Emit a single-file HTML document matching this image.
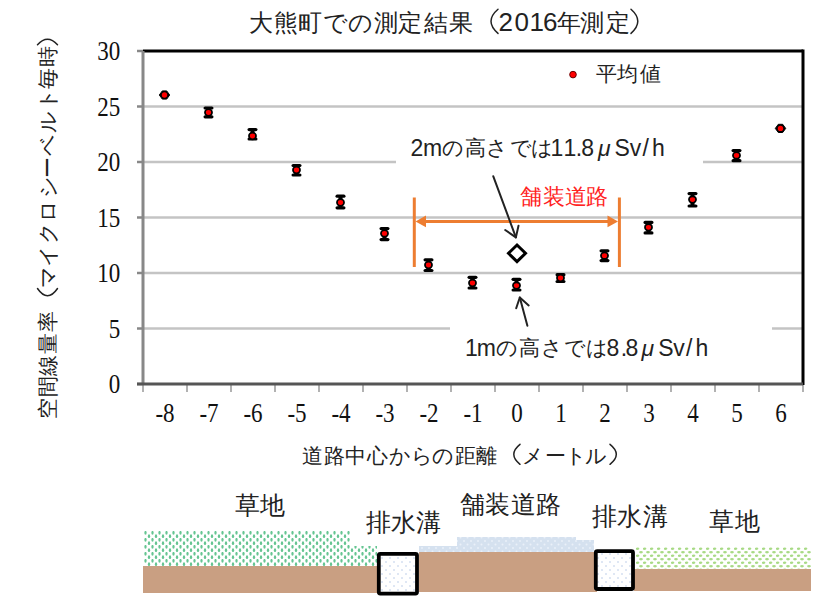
<!DOCTYPE html>
<html><head><meta charset="utf-8">
<style>
html,body{margin:0;padding:0;background:#fff;width:826px;height:602px;overflow:hidden}
svg{display:block}
text{font-family:"Liberation Sans",sans-serif;fill:#222}
.num{font-family:"Liberation Serif",serif;font-size:24px;fill:#111}
.jp{font-size:21px}
</style></head><body>
<svg width="826" height="602" viewBox="0 0 826 602">
<defs>
<pattern id="pg" width="7" height="7" patternUnits="userSpaceOnUse" x="144" y="531">
<ellipse cx="1.5" cy="1.75" rx="1.15" ry="1.9" fill="#66c592"/>
<ellipse cx="5" cy="5.25" rx="1.15" ry="1.9" fill="#66c592"/>
</pattern>
<pattern id="pg2" width="7" height="7" patternUnits="userSpaceOnUse" x="636" y="547">
<ellipse cx="1.5" cy="1.75" rx="1.9" ry="1.15" fill="#a8da86"/>
<ellipse cx="5" cy="5.25" rx="1.9" ry="1.15" fill="#a8da86"/>
</pattern>
<pattern id="pw" width="7" height="7" patternUnits="userSpaceOnUse">
<circle cx="2" cy="2" r="1" fill="#eaf0f8"/>
<circle cx="5.5" cy="5.5" r="1" fill="#eaf0f8"/>
</pattern>
<pattern id="pb" width="8" height="8" patternUnits="userSpaceOnUse">
<circle cx="2" cy="2" r="0.8" fill="#b5c8e6"/>
<circle cx="6" cy="6" r="0.8" fill="#b5c8e6"/>
</pattern>
</defs>
<rect width="826" height="602" fill="#fff"/>
<text x="260.8 285.5 310.1 335.2 360.0 385.5 410.2 436.3 461.3 568.9 592.2 617.7" y="30.5" text-anchor="middle" style="font-size:24px;">大熊町での測定結果年測定</text><text x="505.8 521.7 536.7 550.3" y="31" text-anchor="middle" style="font-size:26px;">2016</text>
<g fill="none" stroke="#222" stroke-width="1.5" stroke-linecap="round">
<path d="M498,9.3 Q484,21.3 498,33.4"/>
<path d="M631,9.3 Q644.6,21.3 631,33.4"/>
<path d="M520,444.3 Q507.6,454.3 520,464.3"/>
<path d="M610,444.3 Q622.6,454.3 610,464.3"/>
<path d="M37.5,288.5 Q47.5,303 57.5,288.5"/>
<path d="M37.5,44.7 Q47.5,33.6 57.5,44.7"/>
</g>
<line x1="143" y1="328.5" x2="450" y2="328.5" stroke="#c4c4c4" stroke-width="2.5"/>
<line x1="772" y1="328.5" x2="803" y2="328.5" stroke="#c4c4c4" stroke-width="2.5"/>
<line x1="143" y1="273.0" x2="803" y2="273.0" stroke="#c4c4c4" stroke-width="2.5"/>
<line x1="143" y1="217.5" x2="803" y2="217.5" stroke="#c4c4c4" stroke-width="2.5"/>
<line x1="143" y1="162.0" x2="396" y2="162.0" stroke="#c4c4c4" stroke-width="2.5"/>
<line x1="703" y1="162.0" x2="803" y2="162.0" stroke="#c4c4c4" stroke-width="2.5"/>
<line x1="143" y1="106.5" x2="803" y2="106.5" stroke="#c4c4c4" stroke-width="2.5"/>
<line x1="137" y1="384.0" x2="143" y2="384.0" stroke="#888" stroke-width="2.5"/>
<g transform="translate(120.3,393.2) scale(0.96,1.1)"><text text-anchor="end" class="num">0</text></g>
<line x1="137" y1="328.5" x2="143" y2="328.5" stroke="#888" stroke-width="2.5"/>
<g transform="translate(120.3,337.7) scale(0.96,1.1)"><text text-anchor="end" class="num">5</text></g>
<line x1="137" y1="273.0" x2="143" y2="273.0" stroke="#888" stroke-width="2.5"/>
<g transform="translate(120.3,282.2) scale(0.96,1.1)"><text text-anchor="end" class="num">10</text></g>
<line x1="137" y1="217.5" x2="143" y2="217.5" stroke="#888" stroke-width="2.5"/>
<g transform="translate(120.3,226.7) scale(0.96,1.1)"><text text-anchor="end" class="num">15</text></g>
<line x1="137" y1="162.0" x2="143" y2="162.0" stroke="#888" stroke-width="2.5"/>
<g transform="translate(120.3,171.2) scale(0.96,1.1)"><text text-anchor="end" class="num">20</text></g>
<line x1="137" y1="106.5" x2="143" y2="106.5" stroke="#888" stroke-width="2.5"/>
<g transform="translate(120.3,115.7) scale(0.96,1.1)"><text text-anchor="end" class="num">25</text></g>
<line x1="137" y1="51.0" x2="143" y2="51.0" stroke="#888" stroke-width="2.5"/>
<g transform="translate(120.3,60.2) scale(0.96,1.1)"><text text-anchor="end" class="num">30</text></g>
<line x1="143" y1="384" x2="143" y2="392" stroke="#999" stroke-width="1.5"/>
<line x1="187" y1="384" x2="187" y2="392" stroke="#999" stroke-width="1.5"/>
<line x1="231" y1="384" x2="231" y2="392" stroke="#999" stroke-width="1.5"/>
<line x1="275" y1="384" x2="275" y2="392" stroke="#999" stroke-width="1.5"/>
<line x1="319" y1="384" x2="319" y2="392" stroke="#999" stroke-width="1.5"/>
<line x1="363" y1="384" x2="363" y2="392" stroke="#999" stroke-width="1.5"/>
<line x1="407" y1="384" x2="407" y2="392" stroke="#999" stroke-width="1.5"/>
<line x1="451" y1="384" x2="451" y2="392" stroke="#999" stroke-width="1.5"/>
<line x1="495" y1="384" x2="495" y2="392" stroke="#999" stroke-width="1.5"/>
<line x1="539" y1="384" x2="539" y2="392" stroke="#999" stroke-width="1.5"/>
<line x1="583" y1="384" x2="583" y2="392" stroke="#999" stroke-width="1.5"/>
<line x1="627" y1="384" x2="627" y2="392" stroke="#999" stroke-width="1.5"/>
<line x1="671" y1="384" x2="671" y2="392" stroke="#999" stroke-width="1.5"/>
<line x1="715" y1="384" x2="715" y2="392" stroke="#999" stroke-width="1.5"/>
<line x1="759" y1="384" x2="759" y2="392" stroke="#999" stroke-width="1.5"/>
<line x1="803" y1="384" x2="803" y2="392" stroke="#999" stroke-width="1.5"/>
<g transform="translate(165.0,422.3) scale(0.96,1.1)"><text text-anchor="middle" class="num">-8</text></g>
<g transform="translate(209.0,422.3) scale(0.96,1.1)"><text text-anchor="middle" class="num">-7</text></g>
<g transform="translate(253.0,422.3) scale(0.96,1.1)"><text text-anchor="middle" class="num">-6</text></g>
<g transform="translate(297.0,422.3) scale(0.96,1.1)"><text text-anchor="middle" class="num">-5</text></g>
<g transform="translate(341.0,422.3) scale(0.96,1.1)"><text text-anchor="middle" class="num">-4</text></g>
<g transform="translate(385.0,422.3) scale(0.96,1.1)"><text text-anchor="middle" class="num">-3</text></g>
<g transform="translate(429.0,422.3) scale(0.96,1.1)"><text text-anchor="middle" class="num">-2</text></g>
<g transform="translate(473.0,422.3) scale(0.96,1.1)"><text text-anchor="middle" class="num">-1</text></g>
<g transform="translate(517.0,422.3) scale(0.96,1.1)"><text text-anchor="middle" class="num">0</text></g>
<g transform="translate(561.0,422.3) scale(0.96,1.1)"><text text-anchor="middle" class="num">1</text></g>
<g transform="translate(605.0,422.3) scale(0.96,1.1)"><text text-anchor="middle" class="num">2</text></g>
<g transform="translate(649.0,422.3) scale(0.96,1.1)"><text text-anchor="middle" class="num">3</text></g>
<g transform="translate(693.0,422.3) scale(0.96,1.1)"><text text-anchor="middle" class="num">4</text></g>
<g transform="translate(737.0,422.3) scale(0.96,1.1)"><text text-anchor="middle" class="num">5</text></g>
<g transform="translate(781.0,422.3) scale(0.96,1.1)"><text text-anchor="middle" class="num">6</text></g>
<line x1="143" y1="51" x2="803" y2="51" stroke="#000" stroke-width="3"/>
<line x1="803" y1="49.5" x2="803" y2="385" stroke="#000" stroke-width="3"/>
<line x1="143" y1="51" x2="143" y2="384" stroke="#888" stroke-width="3"/>
<line x1="137" y1="384" x2="803" y2="384" stroke="#555" stroke-width="3"/>
<polygon points="159.3,95.0 162.3,90.9 166.7,90.9 169.7,95.0 166.7,99.1 162.3,99.1" fill="#000" stroke="#000" stroke-width="1" stroke-linejoin="round"/>
<circle cx="164.5" cy="95.0" r="2.7" fill="#f00"/>
<line x1="208.5" y1="108.0" x2="208.5" y2="116.8" stroke="#000" stroke-width="4"/>
<line x1="205.1" y1="108.0" x2="211.9" y2="108.0" stroke="#000" stroke-width="3.2" stroke-linecap="round"/>
<line x1="205.1" y1="116.8" x2="211.9" y2="116.8" stroke="#000" stroke-width="3.2" stroke-linecap="round"/>
<ellipse cx="208.5" cy="112.5" rx="3.5" ry="3.3" fill="#f00" stroke="#000" stroke-width="1.8"/>
<line x1="252.5" y1="129.6" x2="252.5" y2="139.0" stroke="#000" stroke-width="4"/>
<line x1="249.1" y1="129.6" x2="255.9" y2="129.6" stroke="#000" stroke-width="3.2" stroke-linecap="round"/>
<line x1="249.1" y1="139.0" x2="255.9" y2="139.0" stroke="#000" stroke-width="3.2" stroke-linecap="round"/>
<ellipse cx="252.5" cy="136.0" rx="3.5" ry="3.3" fill="#f00" stroke="#000" stroke-width="1.8"/>
<line x1="296.5" y1="165.5" x2="296.5" y2="175.0" stroke="#000" stroke-width="4"/>
<line x1="293.1" y1="165.5" x2="299.9" y2="165.5" stroke="#000" stroke-width="3.2" stroke-linecap="round"/>
<line x1="293.1" y1="175.0" x2="299.9" y2="175.0" stroke="#000" stroke-width="3.2" stroke-linecap="round"/>
<ellipse cx="296.5" cy="170.0" rx="3.5" ry="3.3" fill="#f00" stroke="#000" stroke-width="1.8"/>
<line x1="340.5" y1="196.2" x2="340.5" y2="207.8" stroke="#000" stroke-width="4"/>
<line x1="337.1" y1="196.2" x2="343.9" y2="196.2" stroke="#000" stroke-width="3.2" stroke-linecap="round"/>
<line x1="337.1" y1="207.8" x2="343.9" y2="207.8" stroke="#000" stroke-width="3.2" stroke-linecap="round"/>
<ellipse cx="340.5" cy="202.5" rx="3.5" ry="3.3" fill="#f00" stroke="#000" stroke-width="1.8"/>
<line x1="384.5" y1="228.6" x2="384.5" y2="239.6" stroke="#000" stroke-width="4"/>
<line x1="381.1" y1="228.6" x2="387.9" y2="228.6" stroke="#000" stroke-width="3.2" stroke-linecap="round"/>
<line x1="381.1" y1="239.6" x2="387.9" y2="239.6" stroke="#000" stroke-width="3.2" stroke-linecap="round"/>
<ellipse cx="384.5" cy="233.4" rx="3.5" ry="3.3" fill="#f00" stroke="#000" stroke-width="1.8"/>
<line x1="428.5" y1="259.8" x2="428.5" y2="270.5" stroke="#000" stroke-width="4"/>
<line x1="425.1" y1="259.8" x2="431.9" y2="259.8" stroke="#000" stroke-width="3.2" stroke-linecap="round"/>
<line x1="425.1" y1="270.5" x2="431.9" y2="270.5" stroke="#000" stroke-width="3.2" stroke-linecap="round"/>
<ellipse cx="428.5" cy="265.0" rx="3.5" ry="3.3" fill="#f00" stroke="#000" stroke-width="1.8"/>
<line x1="472.5" y1="277.3" x2="472.5" y2="288.0" stroke="#000" stroke-width="4"/>
<line x1="469.1" y1="277.3" x2="475.9" y2="277.3" stroke="#000" stroke-width="3.2" stroke-linecap="round"/>
<line x1="469.1" y1="288.0" x2="475.9" y2="288.0" stroke="#000" stroke-width="3.2" stroke-linecap="round"/>
<ellipse cx="472.5" cy="283.0" rx="3.5" ry="3.3" fill="#f00" stroke="#000" stroke-width="1.8"/>
<line x1="516.5" y1="279.3" x2="516.5" y2="290.0" stroke="#000" stroke-width="4"/>
<line x1="513.1" y1="279.3" x2="519.9" y2="279.3" stroke="#000" stroke-width="3.2" stroke-linecap="round"/>
<line x1="513.1" y1="290.0" x2="519.9" y2="290.0" stroke="#000" stroke-width="3.2" stroke-linecap="round"/>
<ellipse cx="516.5" cy="285.6" rx="3.5" ry="3.3" fill="#f00" stroke="#000" stroke-width="1.8"/>
<line x1="560.5" y1="274.7" x2="560.5" y2="281.5" stroke="#000" stroke-width="4"/>
<line x1="557.1" y1="274.7" x2="563.9" y2="274.7" stroke="#000" stroke-width="3.2" stroke-linecap="round"/>
<line x1="557.1" y1="281.5" x2="563.9" y2="281.5" stroke="#000" stroke-width="3.2" stroke-linecap="round"/>
<ellipse cx="560.5" cy="278.0" rx="3.5" ry="3.3" fill="#f00" stroke="#000" stroke-width="1.8"/>
<line x1="604.5" y1="250.8" x2="604.5" y2="260.6" stroke="#000" stroke-width="4"/>
<line x1="601.1" y1="250.8" x2="607.9" y2="250.8" stroke="#000" stroke-width="3.2" stroke-linecap="round"/>
<line x1="601.1" y1="260.6" x2="607.9" y2="260.6" stroke="#000" stroke-width="3.2" stroke-linecap="round"/>
<ellipse cx="604.5" cy="255.7" rx="3.5" ry="3.3" fill="#f00" stroke="#000" stroke-width="1.8"/>
<line x1="648.5" y1="222.4" x2="648.5" y2="232.9" stroke="#000" stroke-width="4"/>
<line x1="645.1" y1="222.4" x2="651.9" y2="222.4" stroke="#000" stroke-width="3.2" stroke-linecap="round"/>
<line x1="645.1" y1="232.9" x2="651.9" y2="232.9" stroke="#000" stroke-width="3.2" stroke-linecap="round"/>
<ellipse cx="648.5" cy="227.3" rx="3.5" ry="3.3" fill="#f00" stroke="#000" stroke-width="1.8"/>
<line x1="692.5" y1="193.6" x2="692.5" y2="206.0" stroke="#000" stroke-width="4"/>
<line x1="689.1" y1="193.6" x2="695.9" y2="193.6" stroke="#000" stroke-width="3.2" stroke-linecap="round"/>
<line x1="689.1" y1="206.0" x2="695.9" y2="206.0" stroke="#000" stroke-width="3.2" stroke-linecap="round"/>
<ellipse cx="692.5" cy="199.6" rx="3.5" ry="3.3" fill="#f00" stroke="#000" stroke-width="1.8"/>
<line x1="736.5" y1="150.6" x2="736.5" y2="160.7" stroke="#000" stroke-width="4"/>
<line x1="733.1" y1="150.6" x2="739.9" y2="150.6" stroke="#000" stroke-width="3.2" stroke-linecap="round"/>
<line x1="733.1" y1="160.7" x2="739.9" y2="160.7" stroke="#000" stroke-width="3.2" stroke-linecap="round"/>
<ellipse cx="736.5" cy="155.4" rx="3.5" ry="3.3" fill="#f00" stroke="#000" stroke-width="1.8"/>
<polygon points="775.3,128.4 778.3,124.30000000000001 782.7,124.30000000000001 785.7,128.4 782.7,132.5 778.3,132.5" fill="#000" stroke="#000" stroke-width="1" stroke-linejoin="round"/>
<circle cx="780.5" cy="128.4" r="2.7" fill="#f00"/>
<!-- legend -->
<circle cx="573" cy="74.6" r="3.3" fill="#f00" stroke="#600" stroke-width="1"/>
<text x="606.0 627.8 650.0" y="81" text-anchor="middle" style="font-size:21px;">平均値</text>
<!-- annotations -->
<text x="453.0 475.3 496.5 520.8 542.0" y="154.8" text-anchor="middle" style="font-size:21px;">の高さでは</text><text x="417.0 432.5 557.0 570.0 579.0 587.7 604.4 622.2 635.4 645.6 658.5" y="156" text-anchor="middle" style="font-size:23px;">2m11.8<tspan style="font-style:italic">μ</tspan>Sv/h</text>
<text x="507.2 529.6 551.6 574.7 596.6" y="354.6" text-anchor="middle" style="font-size:21px;">の高さでは</text><text x="471.5 486.3 613.0 624.0 632.0 647.7 665.8 679.1 689.3 702.0" y="355.5" text-anchor="middle" style="font-size:23px;">1m8.8<tspan style="font-style:italic">μ</tspan>Sv/h</text>
<text x="531.3 553.5 575.5 597.3" y="204" text-anchor="middle" style="font-size:21.5px;fill:#f22">舗装道路</text>
<!-- orange bracket -->
<line x1="414.3" y1="197.5" x2="414.3" y2="267" stroke="#ed7d31" stroke-width="3"/>
<line x1="619.4" y1="197.5" x2="619.4" y2="267" stroke="#ed7d31" stroke-width="3"/>
<line x1="424" y1="221.4" x2="609" y2="221.4" stroke="#ed7d31" stroke-width="3"/>
<polygon points="415.5,221.4 426,215.5 426,227.3" fill="#ed7d31"/>
<polygon points="618,221.4 607.5,215.5 607.5,227.3" fill="#ed7d31"/>
<!-- diamond -->
<polygon points="517,245 525.5,253.3 517,261.6 508.5,253.3" fill="#fff" stroke="#000" stroke-width="3"/>
<!-- arrows -->
<g stroke="#222" stroke-width="2" fill="none" stroke-linecap="round" stroke-linejoin="round">
<line x1="493.3" y1="176.3" x2="515.9" y2="237.4"/>
<polyline points="505.2,230 515.9,237.4 518.5,225.8"/>
<line x1="527.4" y1="325.7" x2="519.8" y2="297.5"/>
<polyline points="516.2,308.3 519.8,297.5 528.7,305.4"/>
</g>
<!-- axis titles -->
<text x="312.0 334.1 355.8 377.3 399.5 422.1 442.7 465.8 486.9 532.7 555.8 575.9 596.0" y="463" text-anchor="middle" style="font-size:21px;">道路中心からの距離メートル</text>
<text transform="rotate(-90)" x="-408.9 -386.5 -365.2 -343.2 -321.0 -276.9 -255.7 -232.5 -211.0 -187.3 -167.0 -145.0 -122.0 -99.0 -78.6 -56.6" y="55" text-anchor="middle" style="font-size:21px;">空間線量率マイクロシーベルト毎時</text>
<!-- ground diagram labels -->
<text x="247.4 272.9" y="513.5" text-anchor="middle" style="font-size:25px;">草地</text>
<text x="378.5 403.3 428.9" y="531" text-anchor="middle" style="font-size:25px;">排水溝</text>
<text x="472.4 497.4 523.2 548.2" y="513" text-anchor="middle" style="font-size:25px;">舗装道路</text>
<text x="604.4 629.7 655.0" y="525" text-anchor="middle" style="font-size:25px;">排水溝</text>
<text x="721.4 747.0" y="529.5" text-anchor="middle" style="font-size:25px;">草地</text>
<!-- ground -->
<path d="M144,531 H350 V546 H377 V567 H144 Z" fill="url(#pg)"/>
<rect x="143" y="566" width="236" height="27" fill="#c99f82"/>
<path d="M419,546 H457 V537 H576 V540 H594 V552 H419 Z" fill="#d5e1ef"/>
<path d="M419,546 H457 V537 H576 V540 H594 V552 H419 Z" fill="url(#pw)"/>
<rect x="419" y="552" width="178" height="40" fill="#c99f82"/>
<path d="M636,547 H811 V569 H636 Z" fill="url(#pg2)"/>
<rect x="634" y="569" width="177" height="22" fill="#c99f82"/>
<rect x="378.8" y="553.8" width="38.2" height="39.8" fill="#fff"/>
<rect x="378.8" y="553.8" width="38.2" height="39.8" fill="url(#pb)"/>
<rect x="378.8" y="553.8" width="38.2" height="39.8" fill="none" stroke="#000" stroke-width="3.8" rx="1.5"/>
<rect x="595.8" y="551.2" width="37.2" height="37.8" fill="#fff"/>
<rect x="595.8" y="551.2" width="37.2" height="37.8" fill="url(#pb)"/>
<rect x="595.8" y="551.2" width="37.2" height="37.8" fill="none" stroke="#000" stroke-width="3.8" rx="1.5"/>
</svg>
</body></html>
